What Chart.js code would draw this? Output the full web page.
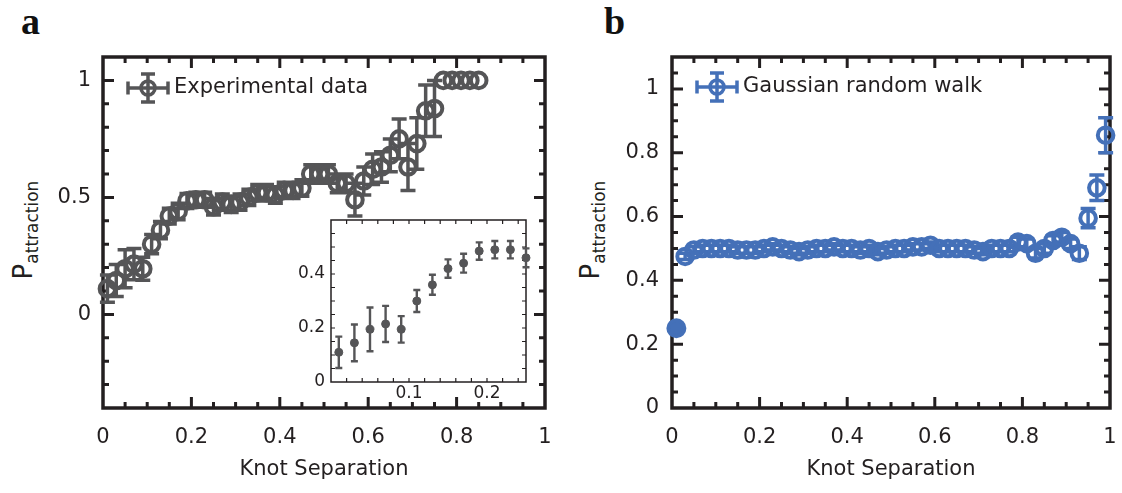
<!DOCTYPE html>
<html>
<head>
<meta charset="utf-8">
<script src="https://cdn.jsdelivr.net/npm/chart.js@4.4.0/dist/chart.umd.min.js"></script>
<style>
  body { margin: 0; background: #fff; width: 1122px; height: 493px; position: relative; overflow: hidden; }
  canvas { position: absolute; }
  .panel { position: absolute; font: bold 38px "Liberation Serif", serif; color: #111; line-height: 1; }
  .ytitle { position: absolute; font: 26px "DejaVu Sans", sans-serif; color: #231f20; white-space: nowrap;
            transform: translate(-50%, -50%) rotate(-90deg); }
  .ytitle sub { font-size: 17px; }
</style>
</head>
<body>
<div class="panel" style="left:21px; top:2px">a</div>
<div class="panel" style="left:604px; top:2px">b</div>
<div class="ytitle" style="left:25px; top:230px">P<sub>attraction</sub></div>
<div class="ytitle" style="left:592px; top:230px">P<sub>attraction</sub></div>

<canvas id="chartA" width="560" height="493" style="left:0; top:0"></canvas>
<canvas id="chartB" width="562" height="493" style="left:560px; top:0"></canvas>
<canvas id="inset" width="255" height="200" style="left:280px; top:205px"></canvas>

<script>
// panel a: experimental data
const sepA = [0.01, 0.03, 0.05, 0.07, 0.09, 0.11, 0.13, 0.15, 0.17, 0.19, 0.21, 0.23, 0.25, 0.27, 0.29,
              0.31, 0.33, 0.35, 0.37, 0.39, 0.41, 0.43, 0.45, 0.47, 0.49, 0.51, 0.53, 0.55, 0.57, 0.59,
              0.61, 0.63, 0.65, 0.67, 0.69, 0.71, 0.73, 0.75, 0.77, 0.79, 0.81, 0.83, 0.85];
const probA = [0.11, 0.145, 0.195, 0.215, 0.195, 0.30, 0.36, 0.42, 0.44, 0.485, 0.49, 0.49, 0.46, 0.48, 0.47,
               0.48, 0.50, 0.52, 0.52, 0.51, 0.53, 0.53, 0.54, 0.60, 0.60, 0.60, 0.56, 0.56, 0.49, 0.57,
               0.62, 0.63, 0.68, 0.75, 0.63, 0.73, 0.87, 0.88, 1, 1, 1, 1, 1];
const errA = [0.058, 0.068, 0.081, 0.067, 0.049, 0.041, 0.037, 0.034, 0.035, 0.032, 0.032, 0.032, 0.035, 0.035, 0.035,
              0.035, 0.035, 0.035, 0.035, 0.035, 0.035, 0.035, 0.035, 0.04, 0.04, 0.04, 0.04, 0.04, 0.07, 0.06,
              0.065, 0.065, 0.07, 0.085, 0.10, 0.11, 0.11, 0.12, 0, 0, 0, 0, 0];
const insetCount = 13; // inset re-plots the first 13 points

// panel b: gaussian random walk
const sepB = [0.01, 0.03, 0.05, 0.07, 0.09, 0.11, 0.13, 0.15, 0.17, 0.19, 0.21, 0.23, 0.25, 0.27, 0.29,
              0.31, 0.33, 0.35, 0.37, 0.39, 0.41, 0.43, 0.45, 0.47, 0.49, 0.51, 0.53, 0.55, 0.57, 0.59,
              0.61, 0.63, 0.65, 0.67, 0.69, 0.71, 0.73, 0.75, 0.77, 0.79, 0.81, 0.83, 0.85, 0.87, 0.89,
              0.91, 0.93, 0.95, 0.97, 0.99];
const probB = [0.25, 0.475, 0.495, 0.50, 0.50, 0.50, 0.50, 0.495, 0.495, 0.495, 0.50, 0.505, 0.50, 0.495, 0.49,
               0.495, 0.50, 0.50, 0.505, 0.50, 0.50, 0.495, 0.50, 0.49, 0.495, 0.50, 0.50, 0.505, 0.505, 0.51,
               0.50, 0.50, 0.50, 0.50, 0.495, 0.49, 0.50, 0.50, 0.50, 0.52, 0.515, 0.485, 0.50, 0.525, 0.535,
               0.515, 0.485, 0.595, 0.69, 0.855];
const errB = [0.01, 0.01, 0.01, 0.01, 0.01, 0.01, 0.01, 0.01, 0.01, 0.01, 0.01, 0.01, 0.01, 0.01, 0.01,
              0.01, 0.01, 0.01, 0.01, 0.01, 0.01, 0.01, 0.01, 0.01, 0.01, 0.01, 0.01, 0.01, 0.01, 0.01,
              0.01, 0.01, 0.01, 0.01, 0.01, 0.01, 0.01, 0.01, 0.01, 0.015, 0.015, 0.015, 0.015, 0.015, 0.015,
              0.015, 0.02, 0.03, 0.04, 0.055];

// tick labels
const xMajor = [0, 0.2, 0.4, 0.6, 0.8, 1];
const yMajorA = [0, 0.5, 1];
const yMajorB = [0, 0.2, 0.4, 0.6, 0.8, 1];
const xMajorInset = [0.1, 0.2];
const yMajorInset = [0, 0.2, 0.4];

const gray = '#555557';
const blue = '#4470b8';
const ink = '#231f20';

Chart.defaults.font.family = '"DejaVu Sans", sans-serif';
Chart.defaults.color = ink;

function stepTicks(min, max, step) {
  const out = [];
  for (let i = 0; min + i * step <= max + 1e-9; i++) out.push({ value: +(min + i * step).toFixed(4) });
  return out;
}
function labelIf(majors) {
  return v => {
    const m = majors.find(t => Math.abs(t - v) < 1e-6);
    return m === undefined ? '' : String(m);
  };
}

// box round the plot with inward ticks on all four sides
const framePlugin = {
  id: 'frame',
  beforeDatasetsDraw(chart, args, opts) {
    const { ctx, chartArea: a } = chart;
    const xs = chart.scales.x, ys = chart.scales.y;
    ctx.save();
    ctx.strokeStyle = ink;
    ctx.lineWidth = opts.tickWidth;
    ctx.beginPath();
    xs.ticks.forEach(t => {
      const px = xs.getPixelForValue(t.value);
      if (px <= a.left + 1 || px >= a.right - 1) return;
      const len = t.label ? opts.major : opts.minor;
      ctx.moveTo(px, a.bottom); ctx.lineTo(px, a.bottom - len);
      ctx.moveTo(px, a.top); ctx.lineTo(px, a.top + len);
    });
    ys.ticks.forEach(t => {
      const py = ys.getPixelForValue(t.value);
      if (py <= a.top + 1 || py >= a.bottom - 1) return;
      const len = t.label ? opts.major : opts.minor;
      ctx.moveTo(a.left, py); ctx.lineTo(a.left + len, py);
      ctx.moveTo(a.right, py); ctx.lineTo(a.right - len, py);
    });
    ctx.stroke();
    ctx.lineWidth = opts.lineWidth;
    ctx.strokeRect(a.left, a.top, a.right - a.left, a.bottom - a.top);
    ctx.restore();
  }
};

// vertical error bars with caps, from dataset.errors
const errorBarPlugin = {
  id: 'errorBars',
  beforeDatasetsDraw(chart, args, opts) {
    const ctx = chart.ctx;
    chart.data.datasets.forEach((ds, i) => {
      const meta = chart.getDatasetMeta(i);
      const ys = chart.scales[meta.yAxisID];
      ctx.save();
      ctx.strokeStyle = ds.borderColor;
      ctx.lineWidth = opts.width;
      ctx.beginPath();
      meta.data.forEach((pt, j) => {
        const e = ds.errors[j];
        if (!e) return;
        const v = ds.data[j].y;
        const top = ys.getPixelForValue(v + e), bot = ys.getPixelForValue(v - e);
        ctx.moveTo(pt.x, top); ctx.lineTo(pt.x, bot);
        ctx.moveTo(pt.x - opts.cap, top); ctx.lineTo(pt.x + opts.cap, top);
        ctx.moveTo(pt.x - opts.cap, bot); ctx.lineTo(pt.x + opts.cap, bot);
      });
      ctx.stroke();
      ctx.restore();
    });
  }
};

// legend entry: marker with horizontal and vertical error bars
const keyPlugin = {
  id: 'key',
  afterDraw(chart, args, opts) {
    if (!opts.text) return;
    const { ctx, chartArea: a } = chart;
    const cx = a.left + opts.dx, cy = a.top + opts.dy, h = opts.half;
    ctx.save();
    ctx.strokeStyle = opts.color;
    ctx.lineWidth = 3.5;
    ctx.beginPath();
    ctx.moveTo(cx - h, cy); ctx.lineTo(cx + h, cy);
    ctx.moveTo(cx - h, cy - 6.5); ctx.lineTo(cx - h, cy + 6.5);
    ctx.moveTo(cx + h, cy - 6.5); ctx.lineTo(cx + h, cy + 6.5);
    ctx.moveTo(cx, cy - 14); ctx.lineTo(cx, cy + 14);
    ctx.moveTo(cx - 7, cy - 14); ctx.lineTo(cx + 7, cy - 14);
    ctx.moveTo(cx - 7, cy + 14); ctx.lineTo(cx + 7, cy + 14);
    ctx.stroke();
    ctx.beginPath();
    ctx.arc(cx, cy, 7, 0, Math.PI * 2);
    ctx.stroke();
    ctx.fillStyle = ink;
    ctx.font = '21px "DejaVu Sans"';
    ctx.textBaseline = 'middle';
    ctx.fillText(opts.text, cx + h + 6, cy);
    ctx.restore();
  }
};

function points(xs, ys) {
  return xs.map((x, i) => ({ x: x, y: ys[i] }));
}

function axes(cfg) {
  return {
    x: {
      type: 'linear', min: cfg.xMin, max: cfg.xMax,
      afterBuildTicks: s => { s.ticks = stepTicks(cfg.xMin, cfg.xMax, cfg.xStep); },
      afterFit: s => { s.height = cfg.xHeight; s.paddingLeft = 0; s.paddingRight = 0; },
      ticks: { callback: labelIf(cfg.xMajor), autoSkip: false, maxRotation: 0,
               padding: cfg.xPad, font: { size: cfg.fontSize }, color: ink },
      grid: { display: false, drawTicks: false },
      border: { display: false },
      title: cfg.xTitle ? { display: true, text: cfg.xTitle, font: { size: 21 }, color: ink,
                            padding: { top: 0, bottom: 11 } } : { display: false }
    },
    y: {
      type: 'linear', min: cfg.yMin, max: cfg.yMax,
      afterBuildTicks: s => { s.ticks = stepTicks(cfg.yMin, cfg.yMax, cfg.yStep); },
      afterFit: s => { s.width = cfg.yWidth; s.paddingTop = 0; s.paddingBottom = 0; },
      ticks: { callback: labelIf(cfg.yMajor), autoSkip: false,
               padding: cfg.yPad, font: { size: cfg.fontSize }, color: ink },
      grid: { display: false, drawTicks: false },
      border: { display: false }
    }
  };
}

const common = {
  responsive: false,
  animation: false,
  devicePixelRatio: 1,
  events: []
};

new Chart(document.getElementById('chartA'), {
  type: 'scatter',
  data: {
    datasets: [{
      data: points(sepA, probA),
      errors: errA,
      borderColor: gray,
      backgroundColor: 'rgba(0,0,0,0)',
      pointRadius: 7.8,
      pointBorderWidth: 4,
      clip: false
    }]
  },
  options: Object.assign({}, common, {
    layout: { padding: { left: 0, top: 57, right: 15, bottom: 0 } },
    scales: axes({ xMin: 0, xMax: 1, xStep: 0.05, xMajor: xMajor, xHeight: 85, xPad: 17,
                   yMin: -0.4, yMax: 1.1, yStep: 0.1, yMajor: yMajorA, yWidth: 103, yPad: 12,
                   fontSize: 21, xTitle: 'Knot Separation' }),
    plugins: {
      legend: { display: false }, tooltip: { enabled: false },
      frame: { lineWidth: 3.5, tickWidth: 3, major: 11, minor: 6 },
      errorBars: { width: 3.5, cap: 7.5 },
      key: { text: 'Experimental data', color: gray, dx: 45, dy: 31, half: 20 }
    }
  }),
  plugins: [framePlugin, errorBarPlugin, keyPlugin]
});

new Chart(document.getElementById('inset'), {
  type: 'scatter',
  data: {
    datasets: [{
      data: points(sepA.slice(0, insetCount), probA.slice(0, insetCount)),
      errors: errA.slice(0, insetCount),
      borderColor: gray,
      backgroundColor: gray,
      pointRadius: 4,
      pointBorderWidth: 1,
      clip: false
    }]
  },
  options: Object.assign({}, common, {
    layout: { padding: { left: 0, top: 15, right: 9, bottom: 0 } },
    scales: axes({ xMin: 0, xMax: 0.25, xStep: 0.02, xMajor: xMajorInset, xHeight: 23, xPad: 1,
                   yMin: 0, yMax: 0.6, yStep: 0.05, yMajor: yMajorInset, yWidth: 51, yPad: 6,
                   fontSize: 17 }),
    plugins: {
      legend: { display: false }, tooltip: { enabled: false },
      frame: { lineWidth: 1.5, tickWidth: 1.2, major: 4, minor: 4 },
      errorBars: { width: 2.4, cap: 3.5 },
      key: {}
    }
  }),
  plugins: [framePlugin, errorBarPlugin, keyPlugin]
});

new Chart(document.getElementById('chartB'), {
  type: 'scatter',
  data: {
    datasets: [{
      data: points(sepB, probB),
      errors: errB,
      borderColor: blue,
      backgroundColor: c => c.dataIndex === 0 ? blue : 'rgba(0,0,0,0)',
      pointRadius: c => c.dataIndex === 0 ? 8 : 7.8,
      pointBorderWidth: 4,
      clip: false
    }]
  },
  options: Object.assign({}, common, {
    layout: { padding: { left: 0, top: 57, right: 9, bottom: 0 } },
    scales: axes({ xMin: 0, xMax: 1, xStep: 0.05, xMajor: xMajor, xHeight: 85, xPad: 17,
                   yMin: 0, yMax: 1.1, yStep: 0.05, yMajor: yMajorB, yWidth: 112, yPad: 13,
                   fontSize: 21, xTitle: 'Knot Separation' }),
    plugins: {
      legend: { display: false }, tooltip: { enabled: false },
      frame: { lineWidth: 3.5, tickWidth: 3, major: 11, minor: 6 },
      errorBars: { width: 3.5, cap: 7.5 },
      key: { text: 'Gaussian random walk', color: blue, dx: 45, dy: 30, half: 20 }
    }
  }),
  plugins: [framePlugin, errorBarPlugin, keyPlugin]
});
</script>
</body>
</html>
